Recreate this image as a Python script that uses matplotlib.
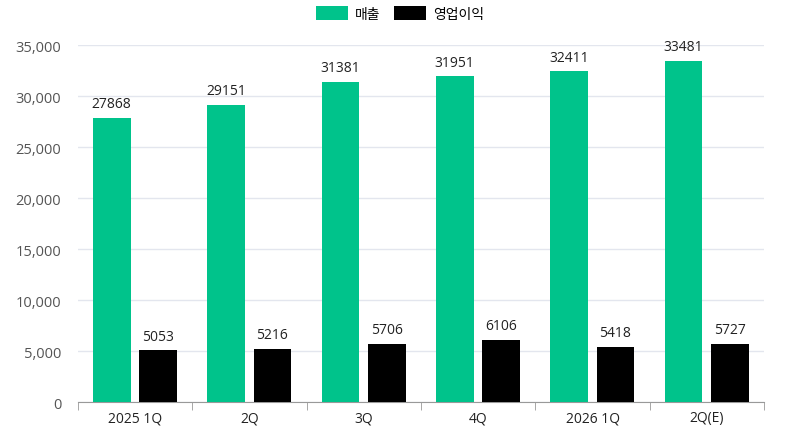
import matplotlib.pyplot as plt
import numpy as np
from matplotlib.ticker import FuncFormatter

plt.rcParams['font.family'] = ['Open Sans', 'Noto Sans CJK KR', 'DejaVu Sans']

quarters = ['2025 1Q', '2Q', '3Q', '4Q', '2026 1Q', '2Q(E)']
sales = [27868, 29151, 31381, 31951, 32411, 33481]
op_profit = [5053, 5216, 5706, 6106, 5418, 5727]

green = '#00c38b'
fig = plt.figure(figsize=(8, 4.39), dpi=100)
ax = fig.add_axes([0.0975, 0.082, 0.8575, 0.813])

x = np.arange(len(quarters))
w = 0.33
b1 = ax.bar(x - 0.205, sales, w, color=green, label='매출', zorder=3)
b2 = ax.bar(x + 0.2, op_profit, w, color='black', label='영업이익', zorder=3)

for rect, v in list(zip(b1, sales)) + list(zip(b2, op_profit)):
    ax.text(rect.get_x() + rect.get_width() / 2, v + 650, str(v),
            ha='center', va='bottom', fontsize=10, color='#222222')

ax.set_xlim(-0.5, len(quarters) - 0.5)
ax.set_ylim(0, 35000)
ax.set_yticks(range(0, 35001, 5000))
ax.yaxis.set_major_formatter(FuncFormatter(lambda v, p: f'{int(v):,}'))
ax.grid(axis='y', color='#e3e6ee', linewidth=1, zorder=0)

ax.set_xticks(x)
ax.set_xticklabels(quarters)
ax.set_xticks(np.arange(-0.5, len(quarters)), minor=True)
ax.tick_params(axis='x', which='major', length=0, pad=6, labelsize=10, labelcolor='#222222')
ax.tick_params(axis='x', which='minor', length=6, color='#999999')
ax.tick_params(axis='y', length=0, pad=12, labelsize=10.5, labelcolor='#555555')

for s in ['top', 'right', 'left']:
    ax.spines[s].set_visible(False)
ax.spines['bottom'].set_color('#999999')

fig.legend(handles=[b1, b2], loc='upper center', bbox_to_anchor=(0.5, 1.012), ncol=2,
           frameon=False, handlelength=2.3, handleheight=1.2,
           columnspacing=1.0, handletextpad=0.5,
           prop={'family': ['Noto Sans CJK KR', 'DejaVu Sans'], 'size': 10})

fig.savefig('out.png', dpi=100)
